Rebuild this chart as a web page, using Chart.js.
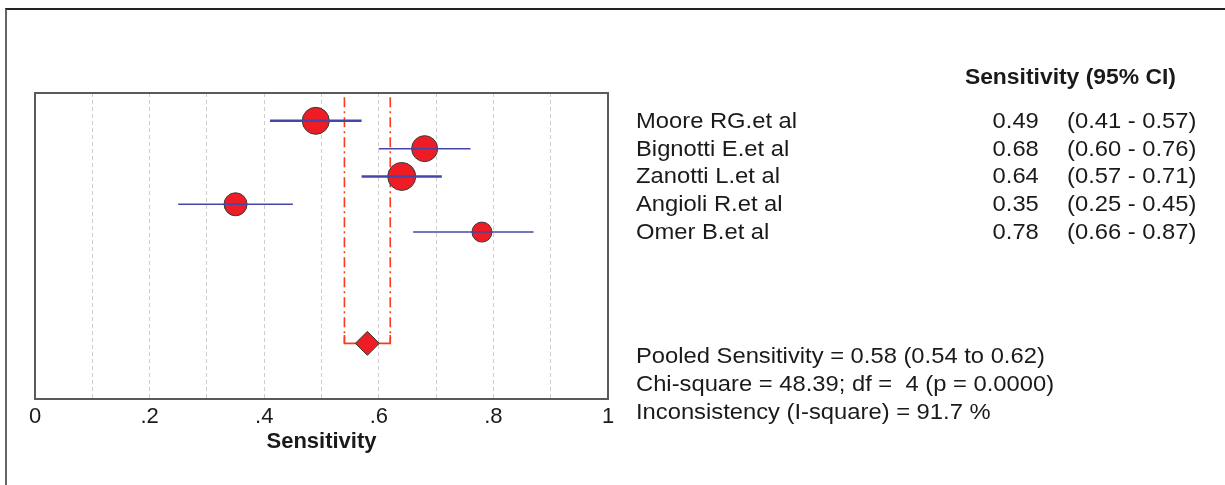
<!DOCTYPE html>
<html>
<head>
<meta charset="utf-8">
<script src="https://cdn.jsdelivr.net/npm/chart.js@4/dist/chart.umd.min.js"></script>
<style>
html,body{margin:0;padding:0;background:#fff;}
body{width:1225px;height:485px;position:relative;overflow:hidden;font-family:"Liberation Sans",Arial,sans-serif;color:#1a1a1a;}
#frame{position:absolute;left:5px;top:8px;width:1300px;height:600px;border-left:2px solid #666;border-top:2px solid #222;}
#cv{position:absolute;left:0;top:0;}
.t{position:absolute;font-size:22px;line-height:26px;white-space:pre;transform-origin:left center;transform:scaleX(1.08);}
.r{transform-origin:right center;}
.b{font-weight:bold;transform:scaleX(1.04);}
</style>
</head>
<body>
<div id="frame"></div>
<canvas id="cv" width="1225" height="485"></canvas>
<div id="texts"></div>
<script>
// ---- data ----
const studies = ["Moore RG.et al", "Bignotti E.et al", "Zanotti L.et al", "Angioli R.et al", "Omer B.et al"];
const sensitivity = [0.49, 0.68, 0.64, 0.35, 0.78];
const ciLow = [0.41, 0.60, 0.57, 0.25, 0.66];
const ciHigh = [0.57, 0.76, 0.71, 0.45, 0.87];
const pooledSens = 0.58;
const pooledLow = 0.54;
const pooledHigh = 0.62;
const xTickLabels = ["0", ".2", ".4", ".6", ".8", "1"];
const tableHeader = "Sensitivity (95% CI)";
const axisTitle = "Sensitivity";
const statsLines = [
  "Pooled Sensitivity = 0.58 (0.54 to 0.62)",
  "Chi-square = 48.39; df =  4 (p = 0.0000)",
  "Inconsistency (I-square) = 91.7 %"
];

// ---- styles ----
const markerRadius = [13.5, 13, 14, 11.5, 10];
const ciWidth = [2.5, 1.5, 2.5, 1.5, 1.5];
const pooledRow = studies.length + 3;

const datasets = [];
// study markers
datasets.push({
  type: 'scatter',
  data: studies.map((s, i) => ({x: sensitivity[i], y: i})),
  pointRadius: markerRadius,
  pointHoverRadius: markerRadius,
  backgroundColor: '#ee1c24',
  borderColor: '#3a3a3a',
  borderWidth: 1,
  order: 3
});
// CI lines
studies.forEach((s, i) => {
  datasets.push({
    type: 'scatter',
    showLine: true,
    data: [{x: ciLow[i], y: i}, {x: ciHigh[i], y: i}],
    borderColor: '#4646a8',
    borderWidth: ciWidth[i],
    pointRadius: 0,
    order: 2
  });
});
// pooled CI dash-dot verticals
[pooledLow, pooledHigh].forEach(v => {
  datasets.push({
    type: 'scatter',
    showLine: true,
    data: [{x: v, y: -0.85}, {x: v, y: pooledRow}],
    borderColor: '#ff3a1c',
    borderWidth: 1.6,
    borderDash: [10, 4, 2, 4],
    pointRadius: 0,
    order: 5
  });
});
// bracket
datasets.push({
  type: 'scatter',
  showLine: true,
  data: [{x: pooledLow, y: pooledRow - 0.3}, {x: pooledLow, y: pooledRow}, {x: pooledHigh, y: pooledRow}, {x: pooledHigh, y: pooledRow - 0.3}],
  borderColor: '#ff3a1c',
  borderWidth: 1.6,
  pointRadius: 0,
  order: 4
});
// pooled diamond
datasets.push({
  type: 'scatter',
  data: [{x: pooledSens, y: pooledRow}],
  pointStyle: 'rectRot',
  pointRadius: 12,
  backgroundColor: '#ee1c24',
  borderColor: '#3a3a3a',
  borderWidth: 1,
  order: 1
});

const framePlugin = {
  id: 'frame',
  beforeDatasetsDraw(chart) {
    const a = chart.chartArea, ctx = chart.ctx;
    ctx.save();
    ctx.strokeStyle = '#5a5a5a';
    ctx.lineWidth = 2;
    ctx.strokeRect(a.left, a.top, a.right - a.left, a.bottom - a.top);
    ctx.restore();
  }
};

const chart = new Chart(document.getElementById('cv'), {
  type: 'scatter',
  data: {datasets},
  plugins: [framePlugin],
  options: {
    responsive: false,
    animation: false,
    events: [],
    layout: {padding: {left: 35, right: 617, top: 93, bottom: 0}},
    plugins: {legend: {display: false}, tooltip: {enabled: false}},
    scales: {
      x: {
        type: 'linear', min: 0, max: 1,
        afterFit(s) { s.height = 86; },
        ticks: {
          stepSize: 0.1, autoSkip: false, maxRotation: 0,
          padding: 5,
          color: '#1a1a1a',
          font: {family: '"Liberation Sans", Arial, sans-serif', size: 22},
          callback(v) {
            const k = Math.round(v * 10);
            return k % 2 === 0 ? xTickLabels[k / 2] : '';
          }
        },
        grid: {color: '#cdcdcd', lineWidth: 1, drawTicks: false},
        border: {display: false, dash: [4, 3]},
        title: {
          display: true, text: axisTitle, color: '#1a1a1a',
          font: {family: '"Liberation Sans", Arial, sans-serif', size: 22, weight: 'bold'},
          padding: {top: 0, bottom: 30}
        }
      },
      y: {
        type: 'linear', min: -1, max: 10, reverse: true, display: false
      }
    }
  }
});

// ---- right-hand text ----
const texts = document.getElementById('texts');
const ys = chart.scales.y;
function addText(str, css, cls) {
  const d = document.createElement('div');
  d.className = 't' + (cls ? ' ' + cls : '');
  d.textContent = str;
  Object.assign(d.style, css);
  texts.appendChild(d);
}
const step = ys.getPixelForValue(1) - ys.getPixelForValue(0);
addText(tableHeader, {right: (1225 - 1176) + 'px', top: (77 - 13) + 'px'}, 'b r');
studies.forEach((s, i) => {
  const cy = ys.getPixelForValue(i);
  addText(s, {left: '636px', top: (cy - 13) + 'px'});
  addText(sensitivity[i].toFixed(2), {right: (1225 - 1039) + 'px', top: (cy - 13) + 'px'}, 'r');
  addText('(' + ciLow[i].toFixed(2) + ' - ' + ciHigh[i].toFixed(2) + ')', {left: '1067px', top: (cy - 13) + 'px'});
});
statsLines.forEach((s, k) => {
  const cy = ys.getPixelForValue(pooledRow) + 13 + k * step;
  addText(s, {left: '636px', top: (cy - 13) + 'px'});
});
</script>
</body>
</html>
